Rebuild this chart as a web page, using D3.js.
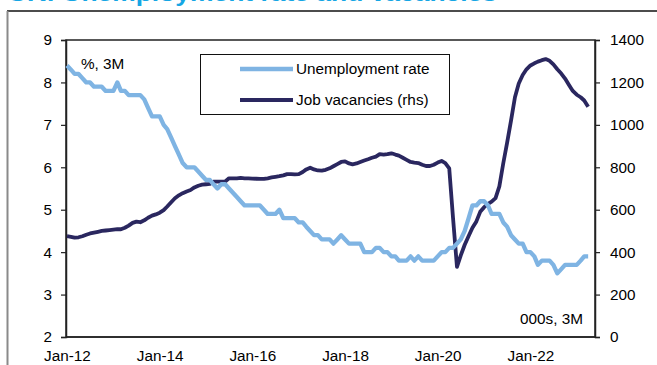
<!DOCTYPE html>
<html>
<head>
<meta charset="utf-8">
<script src="https://cdn.jsdelivr.net/npm/d3@7/dist/d3.min.js"></script>
<style>
  body { margin: 0; background: #fff; }
  svg text { font-family: "Liberation Sans", Arial, sans-serif; }
</style>
</head>
<body>
<div id="chart"></div>
<script>
// monthly, 3 months rolling, from Jan-12
var startYear = 2012;

var unemployment = [
  8.4, 8.3, 8.2, 8.2, 8.1, 8.0, 8.0, 7.9, 7.9, 7.9, 7.8, 7.8,
  7.8, 8.0, 7.8, 7.8, 7.7, 7.7, 7.7, 7.7, 7.6, 7.4, 7.2, 7.2,
  7.2, 7.0, 6.9, 6.7, 6.5, 6.3, 6.1, 6.0, 6.0, 6.0, 5.9, 5.8,
  5.7, 5.7, 5.6, 5.5, 5.6, 5.6, 5.5, 5.4, 5.3, 5.2, 5.1, 5.1,
  5.1, 5.1, 5.1, 5.0, 4.9, 4.9, 4.9, 5.0, 4.8, 4.8, 4.8, 4.8,
  4.7, 4.7, 4.6, 4.5, 4.4, 4.4, 4.3, 4.3, 4.3, 4.2, 4.3, 4.4,
  4.3, 4.2, 4.2, 4.2, 4.2, 4.0, 4.0, 4.0, 4.1, 4.1, 4.0, 4.0,
  3.9, 3.9, 3.8, 3.8, 3.8, 3.9, 3.8, 3.9, 3.8, 3.8, 3.8, 3.8,
  3.9, 4.0, 4.0, 4.1, 4.1, 4.2, 4.3, 4.5, 4.8, 5.1, 5.1, 5.2,
  5.2, 5.1, 4.9, 4.9, 4.9, 4.7, 4.6, 4.4, 4.3, 4.2, 4.2, 4.0,
  4.0, 3.9, 3.7, 3.8, 3.8, 3.8, 3.7, 3.5, 3.6, 3.7, 3.7, 3.7,
  3.7, 3.8, 3.9, 3.9
];

var vacancies = [
  475, 472, 468, 470, 475, 482, 488, 492, 496, 500, 502, 504,
  506, 508, 508, 515, 525, 538, 544, 541, 550, 562, 572, 578,
  586, 598, 615, 635, 654, 668, 678, 686, 693, 705, 713, 718,
  720, 722, 732, 732, 732, 733, 748, 748, 748, 750, 748, 748,
  747, 746, 745, 745, 748, 752, 755, 758, 762, 768, 768, 767,
  768, 778, 790, 798, 790, 785, 784, 788, 795, 805, 815, 825,
  828, 818, 814, 818, 825, 832, 838, 845, 850, 862, 860, 862,
  866, 860, 855, 845, 835, 825, 822, 820, 812, 806, 806, 812,
  822, 830, 820, 795, 560, 331, 385, 435, 476, 515, 545, 590,
  612, 628, 638, 655, 710, 819, 915, 1020, 1130, 1195, 1235, 1262,
  1280, 1290, 1298, 1305, 1310, 1302, 1285, 1262, 1242, 1218, 1188, 1160,
  1142, 1130, 1115, 1085
];

var leftTicks = [2, 3, 4, 5, 6, 7, 8, 9];
var rightTicks = [0, 200, 400, 600, 800, 1000, 1200, 1400];
var xTickLabels = ["Jan-12", "Jan-14", "Jan-16", "Jan-18", "Jan-20", "Jan-22"];
var seriesNames = ["Unemployment rate", "Job vacancies (rhs)"];

var W = 657, H = 365;
var plotL = 66, plotR = 595, plotT = 40, plotB = 337;
var lightBlue = "#7fb4e3", navy = "#2a275f";

var svg = d3.select("#chart").append("svg")
    .attr("width", W)
    .attr("height", H);

// title, cut off at the top of the picture
svg.append("text")
    .attr("x", 8)
    .attr("y", 0.8)
    .attr("textLength", 489)
    .attr("lengthAdjust", "spacingAndGlyphs")
    .style("font-size", "22px")
    .style("font-weight", "bold")
    .style("fill", "#16a6e4")
    .text("UK: Unemployment rate and vacancies");

// outer frame
svg.append("line").attr("x1", 7).attr("x2", W).attr("y1", 11).attr("y2", 11)
    .attr("stroke", "#111").attr("stroke-width", 1.5);
svg.append("line").attr("x1", 7.5).attr("x2", 7.5).attr("y1", 11).attr("y2", H)
    .attr("stroke", "#8a8a8a").attr("stroke-width", 2);

var dates = unemployment.map(function(d, i) { return new Date(startYear, i, 1); });

var x = d3.scaleTime()
    .domain([new Date(2012, 0, 1), new Date(2023, 4, 25)])
    .range([plotL + 1, plotR]);

var yL = d3.scaleLinear().domain([2, 9]).range([plotB, plotT]);
var yR = d3.scaleLinear().domain([0, 1400]).range([plotB, plotT]);

// plot box
svg.append("rect")
    .attr("x", plotL).attr("y", plotT)
    .attr("width", plotR - plotL).attr("height", plotB - plotT)
    .attr("fill", "none")
    .attr("stroke", "#222")
    .attr("stroke-width", 1.5);

var fontSize = "15.3px";

var axL = svg.append("g")
    .attr("transform", "translate(" + plotL + ",0)")
    .call(d3.axisLeft(yL).tickValues(leftTicks).tickSize(5).tickPadding(9).tickFormat(d3.format("d")));
var axR = svg.append("g")
    .attr("transform", "translate(" + plotR + ",0)")
    .call(d3.axisRight(yR).tickValues(rightTicks).tickSize(5).tickPadding(10).tickFormat(d3.format("d")));

var xTickDates = xTickLabels.map(function(d, i) { return new Date(startYear + 2 * i, 0, 1); });
var axX = svg.append("g")
    .attr("transform", "translate(0," + plotB + ")")
    .call(d3.axisBottom(x).tickValues(xTickDates).tickSize(0).tickPadding(13)
      .tickFormat(function(d, i) { return xTickLabels[i]; }));
axX.select(".domain").attr("d", "M" + plotL + ",0H" + plotR);

[axL, axR, axX].forEach(function(a) {
  a.select(".domain").attr("stroke", "#222").attr("stroke-width", 1.5);
  a.selectAll(".tick line").attr("stroke", "#222").attr("stroke-width", 1.2);
  a.selectAll("text").style("font-size", fontSize).style("fill", "#000")
    .style("font-family", '"Liberation Sans", Arial, sans-serif');
});

// series
var lineU = d3.line()
    .x(function(d, i) { return x(dates[i]); })
    .y(function(d) { return yL(d); });
var lineV = d3.line()
    .x(function(d, i) { return x(dates[i]); })
    .y(function(d) { return yR(d); });

svg.append("path")
    .datum(vacancies)
    .attr("d", lineV)
    .attr("fill", "none")
    .attr("stroke", navy)
    .attr("stroke-width", 3.8)
    .attr("stroke-linejoin", "round");

svg.append("path")
    .datum(unemployment)
    .attr("d", lineU)
    .attr("fill", "none")
    .attr("stroke", lightBlue)
    .attr("stroke-width", 4.3)
    .attr("stroke-linejoin", "round");

// unit labels
svg.append("text").attr("x", 81).attr("y", 64).attr("dy", "0.35em")
    .style("font-size", fontSize).text("%, 3M");
svg.append("text").attr("x", 583).attr("y", 319).attr("dy", "0.35em")
    .attr("text-anchor", "end")
    .style("font-size", fontSize).text("000s, 3M");

// legend
var legend = svg.append("g");
legend.append("rect")
    .attr("x", 200.5).attr("y", 54.5).attr("width", 249).attr("height", 60)
    .attr("fill", "#fff").attr("stroke", "#111").attr("stroke-width", 1);
[lightBlue, navy].forEach(function(c, i) {
  var ly = 69 + i * 31;
  legend.append("line")
      .attr("x1", 240).attr("x2", 293).attr("y1", ly).attr("y2", ly)
      .attr("stroke", c).attr("stroke-width", i ? 3.8 : 4.3);
  legend.append("text")
      .attr("x", 296).attr("y", ly).attr("dy", "0.35em")
      .style("font-size", fontSize)
      .text(seriesNames[i]);
});
</script>
</body>
</html>
